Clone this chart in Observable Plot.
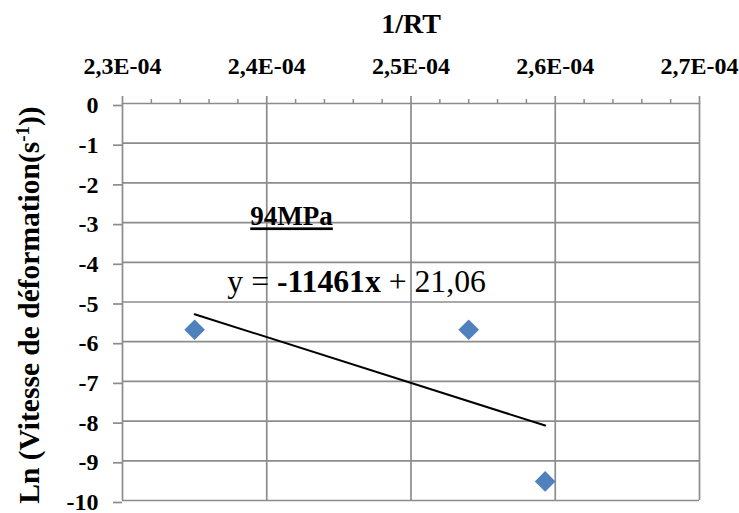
<!DOCTYPE html>
<html><head><meta charset="utf-8">
<script src="https://cdn.jsdelivr.net/npm/d3@7"></script>
<script src="https://cdn.jsdelivr.net/npm/@observablehq/plot@0.6"></script>
<style>
body{margin:0;background:#fff}
#chart svg, #chart svg text, #chart svg tspan { font-family: "Liberation Serif", "Times New Roman", serif !important; }
</style>
</head><body><div id="chart"></div>
<script>
// ---- data ----
const invRT = [2.35e-4, 2.54e-4, 2.593e-4];
const lnRate = [-5.7, -5.7, -9.52];
const xTicks = [2.3e-4, 2.4e-4, 2.5e-4, 2.6e-4, 2.7e-4];
const xTickLabels = ["2,3E-04", "2,4E-04", "2,5E-04", "2,6E-04", "2,7E-04"];
const xMinorTicks = [2.32e-4, 2.34e-4, 2.36e-4, 2.38e-4, 2.42e-4, 2.44e-4, 2.46e-4, 2.48e-4,
                     2.52e-4, 2.54e-4, 2.56e-4, 2.58e-4, 2.62e-4, 2.64e-4, 2.66e-4, 2.68e-4];
const yTicks = [0, -1, -2, -3, -4, -5, -6, -7, -8, -9, -10];
const yTickLabels = ["0", "-1", "-2", "-3", "-4", "-5", "-6", "-7", "-8", "-9", "-10"];
const xTitle = "1/RT";
const yTitleParts = ["Ln (Vitesse de déformation(s", "-1", "))"];
const seriesLabel = "94MPa";
const seriesLabelPos = [2.3886e-4, -3.07];
const equationParts = ["y = ", "-11461x", " + 21,06"];
const equationPos = [2.3727e-4, -4.76];

const points = invRT.map((x, i) => ({x, y: lnRate[i]}));
const yTitle = yTitleParts.join("");
const equation = equationParts.join("");
const gridColor = "#8c8c8c";
const serif = "Liberation Serif";

const chart = Plot.plot({
  width: 739, height: 513,
  marginLeft: 122, marginRight: 40, marginTop: 103, marginBottom: 13,
  x: {domain: [2.3e-4, 2.7e-4]},
  y: {domain: [-10, 0]},
  style: {fontFamily: serif, fontWeight: "bold", color: "black", background: "white", overflow: "visible"},
  marks: [
    Plot.gridX(xTicks, {stroke: gridColor, strokeOpacity: 1, strokeWidth: 1.7}),
    Plot.gridY(yTicks, {stroke: gridColor, strokeOpacity: 1, strokeWidth: 1.7}),
    Plot.axisX(xMinorTicks, {anchor: "top", tickSize: 5, tickFormat: () => "", stroke: gridColor, strokeWidth: 1.5, label: null}),
    Plot.axisX(xTicks, {anchor: "top", tickSize: 8, tickPadding: 22, fontSize: 24, fontFamily: serif, stroke: gridColor, strokeWidth: 1.7,
      tickFormat: d => xTickLabels[xTicks.indexOf(d)], label: null}),
    Plot.axisY(yTicks, {anchor: "left", tickSize: 9, tickPadding: 15, fontSize: 24, fontFamily: serif, dy: 2, stroke: gridColor, strokeWidth: 1.7,
      tickFormat: d => yTickLabels[yTicks.indexOf(d)], label: null}),
    Plot.text([xTitle], {text: d => d, frameAnchor: "top", dy: -71, lineAnchor: "bottom", fontSize: 28, fontFamily: serif}),
    Plot.text([yTitle], {text: d => d, frameAnchor: "left", rotate: -90, dx: -93, dy: 3, textAnchor: "middle", lineAnchor: "middle", fontSize: 29.5, fontFamily: serif}),
    Plot.linearRegressionY(points, {x: "x", y: "y", stroke: "black", strokeWidth: 2, ci: 0}),
    Plot.dot(points, {x: "x", y: "y", symbol: "diamond2", r: 9.3, fill: "#4F81BD", stroke: "none"}),
    Plot.text([seriesLabel], {text: d => d, x: () => seriesLabelPos[0], y: () => seriesLabelPos[1], textAnchor: "start", lineAnchor: "bottom", fontSize: 27, fontFamily: serif}),
    Plot.text([equation], {text: d => d, x: () => equationPos[0], y: () => equationPos[1], textAnchor: "start", lineAnchor: "bottom", fontSize: 31.7, fontWeight: "normal", fontFamily: serif})
  ]
});
document.getElementById("chart").appendChild(chart);

// rich-text touches: superscript, bold part, underline
const NS = "http://www.w3.org/2000/svg";
function span(txt, attrs) {
  const s = document.createElementNS(NS, "tspan");
  s.textContent = txt;
  for (const k in attrs) s.setAttribute(k, attrs[k]);
  return s;
}
chart.querySelectorAll("text").forEach(t => {
  const c = t.textContent;
  if (c === yTitle) {
    t.textContent = "";
    t.appendChild(span(yTitleParts[0], {}));
    t.appendChild(span(yTitleParts[1], {"baseline-shift": "super", "font-size": "19"}));
    t.appendChild(span(yTitleParts[2], {}));
  } else if (c === equation) {
    t.textContent = "";
    t.setAttribute("style", "white-space:pre");
    t.appendChild(span(equationParts[0], {}));
    t.appendChild(span(equationParts[1], {"font-weight": "bold"}));
    t.appendChild(span(equationParts[2], {}));
  } else if (c === seriesLabel) {
    t.setAttribute("text-decoration", "underline");
  }
});
</script>
</body></html>
